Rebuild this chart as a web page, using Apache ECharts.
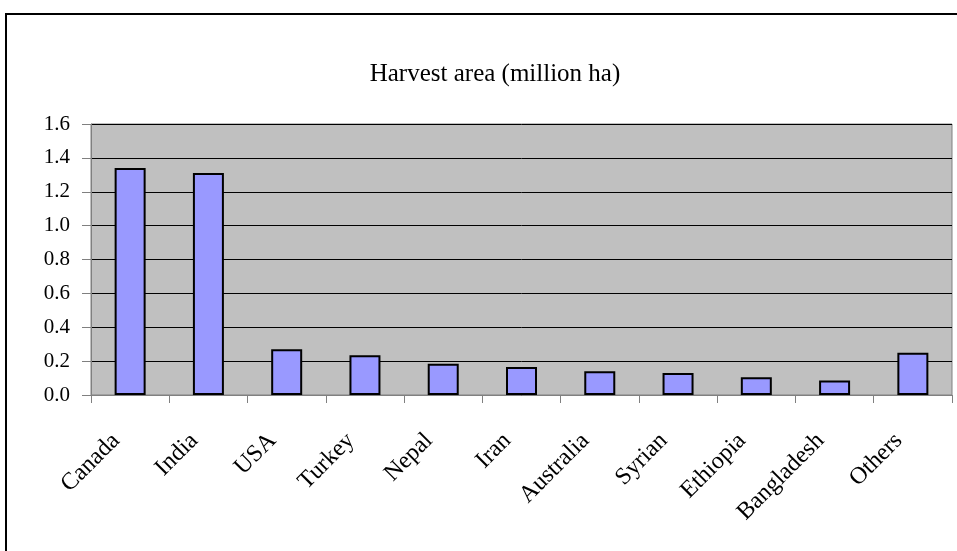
<!DOCTYPE html>
<html>
<head>
<meta charset="utf-8">
<script src="https://cdn.jsdelivr.net/npm/echarts@6/dist/echarts.min.js"></script>
<style>
  html, body { margin: 0; padding: 0; background: #fff; }
  #chart { width: 957px; height: 551px; }
</style>
</head>
<body>
<div id="chart"></div>
<script>
// harvest area per country, million ha
var countries = ['Canada', 'India', 'USA', 'Turkey', 'Nepal', 'Iran', 'Australia', 'Syrian', 'Ethiopia', 'Bangladesh', 'Others'];
var harvestArea = [1.34, 1.31, 0.27, 0.235, 0.185, 0.165, 0.14, 0.13, 0.105, 0.085, 0.25];
var chartTitle = 'Harvest area (million ha)';

var font = '"Liberation Serif", "Times New Roman", serif';
var chart = echarts.init(document.getElementById('chart'));

chart.setOption({
  animation: false,
  title: {
    text: chartTitle,
    left: 490,
    top: 57,
    textAlign: 'center',
    textStyle: { fontFamily: font, fontSize: 25, fontWeight: 'normal', color: '#000' }
  },
  graphic: [{
    type: 'rect',
    shape: { x: 6, y: 14, width: 1000, height: 600 },
    style: { fill: 'none', stroke: '#000', lineWidth: 2 },
    silent: true
  }],
  grid: {
    left: 91,
    right: 5,
    top: 124,
    bottom: 156,
    show: true,
    backgroundColor: '#C0C0C0',
    borderColor: '#808080',
    borderWidth: 1
  },
  xAxis: {
    type: 'category',
    data: countries,
    axisLine: { lineStyle: { color: '#808080', width: 1 } },
    axisTick: { show: true, length: 8, alignWithLabel: false, lineStyle: { color: '#808080' } },
    axisLabel: {
      rotate: 45,
      margin: 28,
      interval: 0,
      padding: [0, 20, 0, 0],
      fontFamily: font,
      fontSize: 24,
      color: '#000'
    }
  },
  yAxis: {
    type: 'value',
    min: 0,
    max: 1.6,
    interval: 0.2,
    axisLine: { show: true, lineStyle: { color: '#808080', width: 1 } },
    axisTick: { show: true, length: 9, lineStyle: { color: '#808080' } },
    splitLine: { show: true, lineStyle: { color: '#000', width: 1 } },
    axisLabel: {
      margin: 21,
      fontFamily: font,
      fontSize: 21,
      color: '#000',
      formatter: function (v) { return v.toFixed(1); }
    }
  },
  series: [{
    type: 'bar',
    data: harvestArea,
    barWidth: 31,
    itemStyle: { color: '#9999FF', borderColor: '#000', borderWidth: 2 }
  }]
});
</script>
</body>
</html>
